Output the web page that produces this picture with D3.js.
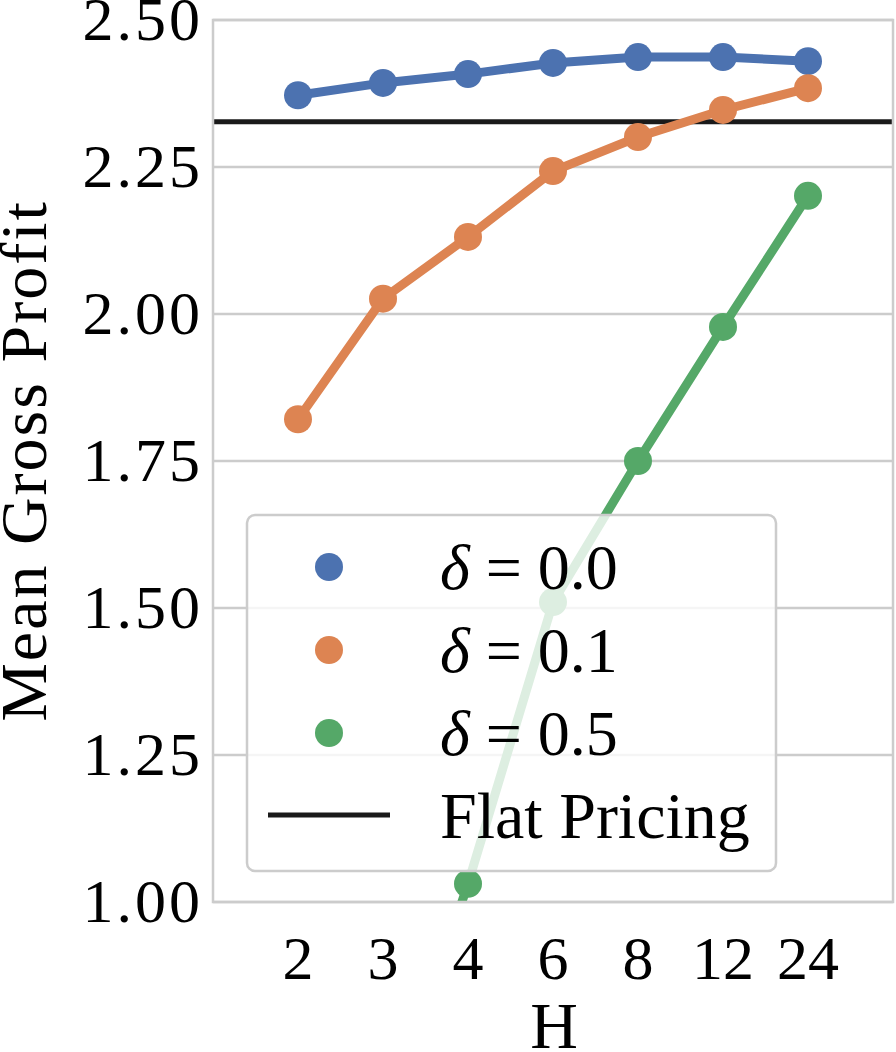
<!DOCTYPE html>
<html>
<head>
<meta charset="utf-8">
<script src="https://cdn.jsdelivr.net/npm/d3@7"></script>
<style>
  body { margin: 0; background: #fff; }
  text { font-family: "Liberation Serif", "DejaVu Serif", serif; fill: #000; }
</style>
</head>
<body>
<div id="chart"></div>
<script>
// categories on the x axis (H)
var hLabels = ["2", "3", "4", "6", "8", "12", "24"];
// mean gross profit per series
var delta00 = [2.372, 2.393, 2.408, 2.427, 2.437, 2.437, 2.430];
var delta01 = [1.821, 2.026, 2.131, 2.243, 2.301, 2.347, 2.384];
var delta05 = [0.10, 0.60, 1.031, 1.510, 1.750, 1.978, 2.201];
var flatPricing = 2.327;
var yTicks = [1.00, 1.25, 1.50, 1.75, 2.00, 2.25, 2.50];

var series = [
  { name: "0.0", values: delta00, color: "#4C72B0" },
  { name: "0.1", values: delta01, color: "#DD8452" },
  { name: "0.5", values: delta05, color: "#55A868" }
];

var width = 896, height = 1052;
var mLeft = 213, mRight = 893, mTop = 20, mBottom = 902;

var svg = d3.select("#chart").append("svg")
    .attr("width", width)
    .attr("height", height);

var x = d3.scaleLinear().domain([-1, 7]).range([mLeft, mRight]);
var y = d3.scaleLinear().domain([1.0, 2.5]).range([mBottom, mTop]);

svg.append("clipPath").attr("id", "clip")
  .append("rect")
    .attr("x", mLeft).attr("y", mTop)
    .attr("width", mRight - mLeft).attr("height", mBottom - mTop);

// grid lines
svg.selectAll(".grid")
  .data(yTicks)
  .enter().append("line")
    .attr("x1", mLeft).attr("x2", mRight)
    .attr("y1", function(d) { return y(d); })
    .attr("y2", function(d) { return y(d); })
    .style("stroke", "#cccccc")
    .style("stroke-width", 2.5);

// y axis labels
svg.selectAll(".ylab")
  .data(yTicks)
  .enter().append("text")
    .attr("x", 203)
    .attr("y", function(d) { return y(d); })
    .attr("dy", "0.33em")
    .attr("text-anchor", "end")
    .style("font-size", "62px")
    .style("letter-spacing", "3px")
    .text(function(d) { return d.toFixed(2); });

// x axis labels
svg.selectAll(".xlab")
  .data(hLabels)
  .enter().append("text")
    .attr("x", function(d, i) { return x(i); })
    .attr("y", 979)
    .attr("text-anchor", "middle")
    .style("font-size", "62px")
    .text(function(d) { return d; });

svg.append("text")
    .attr("x", 554)
    .attr("y", 1048)
    .attr("text-anchor", "middle")
    .style("font-size", "66px")
    .text("H");

svg.append("text")
    .attr("transform", "translate(46," + ((mTop + mBottom) / 2) + ") rotate(-90)")
    .attr("text-anchor", "middle")
    .style("font-size", "66px")
    .style("letter-spacing", "2px")
    .text("Mean Gross Profit");

var plot = svg.append("g").attr("clip-path", "url(#clip)");

// flat pricing reference
plot.append("line")
    .attr("x1", mLeft).attr("x2", mRight)
    .attr("y1", y(flatPricing)).attr("y2", y(flatPricing))
    .style("stroke", "#1a1a1a")
    .style("stroke-width", 5);

var line = d3.line()
    .x(function(d, i) { return x(i); })
    .y(function(d) { return y(d); });

series.forEach(function(s) {
  plot.append("path")
      .datum(s.values)
      .attr("d", line)
      .style("fill", "none")
      .style("stroke", s.color)
      .style("stroke-width", 9);
  svg.selectAll(null)
    .data(s.values.map(function(v, i) { return { v: v, i: i }; })
                  .filter(function(d) { return d.v >= 1.0; }))
    .enter().append("circle")
      .attr("cx", function(d) { return x(d.i); })
      .attr("cy", function(d) { return y(d.v); })
      .attr("r", 14)
      .style("fill", s.color);
});

// frame
svg.append("rect")
    .attr("x", mLeft).attr("y", mTop)
    .attr("width", mRight - mLeft).attr("height", mBottom - mTop)
    .style("fill", "none")
    .style("stroke", "#cccccc")
    .style("stroke-width", 2.5);

// legend
var lg = svg.append("g");
lg.append("rect")
    .attr("x", 247).attr("y", 515)
    .attr("width", 529).attr("height", 356)
    .attr("rx", 8)
    .style("fill", "rgba(255,255,255,0.8)")
    .style("stroke", "#cccccc")
    .style("stroke-width", 2.5);

series.forEach(function(s, i) {
  var cy = 567 + i * 83;
  lg.append("circle").attr("cx", 329).attr("cy", cy).attr("r", 14).style("fill", s.color);
  var t = lg.append("text").attr("x", 440).attr("y", cy + 22).style("font-size", "64px");
  t.append("tspan").style("font-style", "italic").text("δ");
  t.append("tspan").text(" = " + s.name);
});
lg.append("line")
    .attr("x1", 268).attr("x2", 390)
    .attr("y1", 815).attr("y2", 815)
    .style("stroke", "#1a1a1a")
    .style("stroke-width", 5);
lg.append("text").attr("x", 440).attr("y", 838).style("font-size", "66px").text("Flat Pricing");
</script>
</body>
</html>
